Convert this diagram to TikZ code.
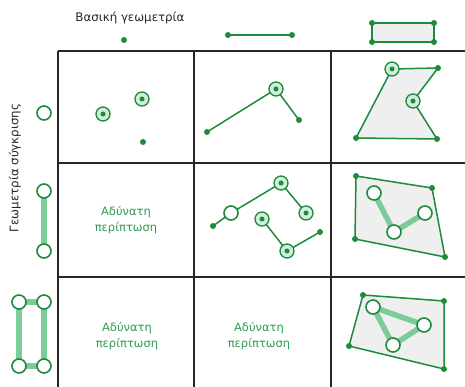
\documentclass[tikz,border=0pt]{standalone}
\usepackage{fontspec}
\setmainfont{DejaVu Sans}
\usetikzlibrary{backgrounds}
\definecolor{dg}{HTML}{1E8A3C}
\definecolor{lg}{HTML}{7DCB98}
\definecolor{tg}{HTML}{2E9A52}
\definecolor{gf}{HTML}{EFEFEF}
\begin{document}
\begin{tikzpicture}[x=1pt,y=-1pt,
 dot/.style={circle,fill=dg,inner sep=0pt,minimum size=6pt},
 ring/.style={circle,draw=dg,line width=1.3pt,fill=lg!35,inner sep=0pt,minimum size=14pt,
   path picture={\fill[dg] (path picture bounding box.center) circle (2.5pt);}},
 hollow/.style={circle,draw=dg,line width=1.6pt,fill=white,inner sep=0pt,minimum size=14pt},
 seg/.style={dg,line width=1.5pt},
 bar/.style={lg,line width=5.5pt},
 poly/.style={fill=gf,draw=dg,line width=1.5pt,line join=round},
 gridline/.style={black!85,line width=1.6pt},
 imp/.style={text=tg,font=\fontsize{11.5}{16}\selectfont,align=center},
 hdr/.style={text=black!85,font=\fontsize{11.8}{13}\selectfont}
]
\useasboundingbox (0,0) rectangle (465,387);
% grid
\draw[gridline] (58,51) -- (465,51);
\draw[gridline] (58,163) -- (465,163);
\draw[gridline] (58,277) -- (465,277);
\draw[gridline] (58,51) -- (58,387);
\draw[gridline] (194,51) -- (194,387);
\draw[gridline] (331,51) -- (331,387);
% labels
\node[hdr] (lab1) at (130,18) {Βασική γεωμετρία};
\node[hdr,rotate=90] (lab2) at (15,168) {Γεωμετρία σύγκρισης};
% top row
\node[dot] (t1) at (124,40) {};
\node[dot] (t2a) at (228,35) {};
\node[dot] (t2b) at (292,35) {};
\node[dot] (r1) at (372,23) {};
\node[dot] (r2) at (434,23) {};
\node[dot] (r3) at (434,42) {};
\node[dot] (r4) at (372,42) {};
% left column
\node[hollow] (h0) at (44,113) {};
\node[hollow] (h1) at (44,191) {};
\node[hollow] (h2) at (44,251) {};
\node[hollow] (q1) at (19,302) {};
\node[hollow] (q2) at (44,302) {};
\node[hollow] (q3) at (44,366) {};
\node[hollow] (q4) at (19,366) {};
% cell 1,1
\node[ring] (a1) at (103,114) {};
\node[ring] (a2) at (142,99) {};
\node[dot] (a3) at (143,142) {};
% cell 1,2
\node[dot] (b1) at (207,132) {};
\node[ring] (b2) at (276,89) {};
\node[dot] (b3) at (299,120) {};
% cell 1,3
\node[ring] (c1) at (392,69) {};
\node[dot] (c2) at (438,68) {};
\node[ring] (c3) at (413,101) {};
\node[dot] (c4) at (437,139) {};
\node[dot] (c5) at (356,138) {};
% cell 2,1 and 3,1 and 3,2
\node[imp] (i1) at (126,220) {Αδύνατη\\περίπτωση};
\node[imp] (i2) at (127,336) {Αδύνατη\\περίπτωση};
\node[imp] (i3) at (259,336) {Αδύνατη\\περίπτωση};
% cell 2,2
\node[dot] (d1) at (213,226) {};
\node[hollow] (d2) at (231,213) {};
\node[ring] (d3) at (281,183) {};
\node[ring] (d4) at (306,213) {};
\node[ring] (d5) at (262,219) {};
\node[ring] (d6) at (287,251) {};
\node[dot] (d7) at (320,232) {};
% cell 2,3
\node[dot] (e1) at (356,176) {};
\node[dot] (e2) at (432,188) {};
\node[dot] (e3) at (445,257) {};
\node[dot] (e4) at (355,239) {};
\node[hollow] (e5) at (374,193) {};
\node[hollow] (e6) at (394,232) {};
\node[hollow] (e7) at (425,213) {};
% cell 3,3
\node[dot] (f1) at (363,295) {};
\node[dot] (f2) at (444,301) {};
\node[dot] (f3) at (444,369) {};
\node[dot] (f4) at (349,346) {};
\node[hollow] (f5) at (373,307) {};
\node[hollow] (f6) at (424,325) {};
\node[hollow] (f7) at (393,345) {};
\begin{scope}[on background layer]
\draw[seg] (t2a.center) -- (t2b.center);
\draw[poly] (r1.center) -- (r2.center) -- (r3.center) -- (r4.center) -- cycle;
\draw[bar] (h1.center) -- (h2.center);
\draw[bar] (q1.center) -- (q2.center) -- (q3.center) -- (q4.center) -- cycle;
\draw[seg] (b1.center) -- (b2.center) -- (b3.center);
\draw[poly] (c1.center) -- (c2.center) -- (c3.center) -- (c4.center) -- (c5.center) -- cycle;
\draw[seg] (d1.center) -- (d2.center) -- (d3.center) -- (d4.center);
\draw[seg] (d5.center) -- (d6.center) -- (d7.center);
\draw[poly] (e1.center) -- (e2.center) -- (e3.center) -- (e4.center) -- cycle;
\draw[bar] (e5.center) -- (e6.center) -- (e7.center);
\draw[poly] (f1.center) -- (f2.center) -- (f3.center) -- (f4.center) -- cycle;
\draw[bar,line join=round] (f5.center) -- (f6.center) -- (f7.center) -- cycle;
\end{scope}
\end{tikzpicture}
\end{document}
